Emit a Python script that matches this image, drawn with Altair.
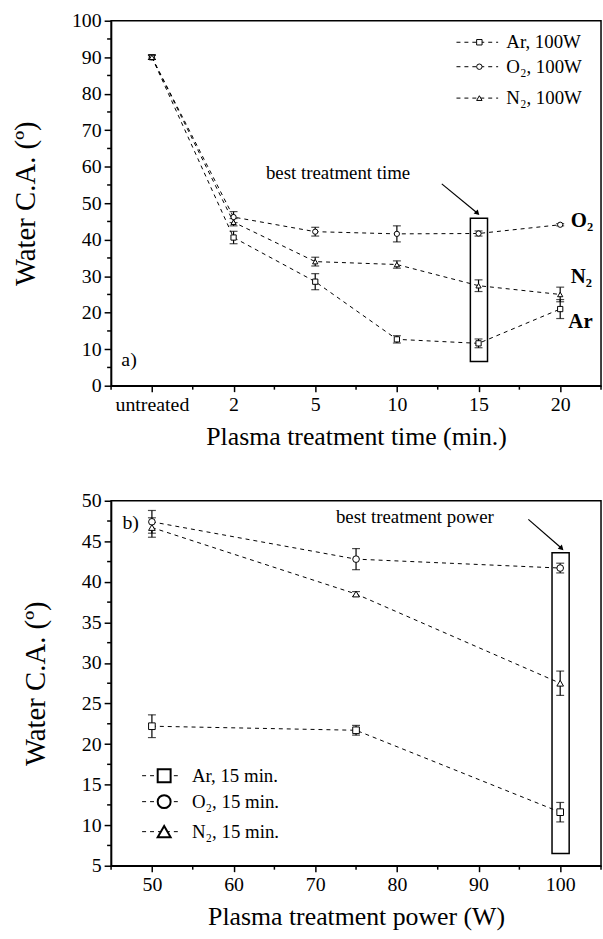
import json
import altair as alt
import pandas as pd

FONT = "Liberation Serif"

# ---------------- data ----------------
series = ["Ar", "O2", "N2"]
shapes = ["square", "circle", "triangle-up"]

time_labels = ["untreated", "2", "5", "10", "15", "20"]
time_idx = [0, 1, 2, 3, 4, 5]
ar_time = [90.0, 40.6, 28.5, 12.7, 11.6, 21.0]
ar_time_err = [0.6, 1.7, 2.2, 1.0, 1.2, 2.6]
o2_time = [90.0, 46.2, 42.2, 41.6, 41.7, 44.1]
o2_time_err = [0.6, 1.5, 1.2, 2.2, 0.7, 0.3]
n2_time = [90.0, 44.8, 34.0, 33.2, 27.4, 25.0]
n2_time_err = [0.6, 1.0, 1.2, 1.0, 1.6, 2.0]

power = [50, 75, 100]
ar_pow = [22.2, 21.7, 11.6]
ar_pow_err = [1.4, 0.6, 1.2]
o2_pow = [47.4, 42.8, 41.7]
o2_pow_err = [1.4, 1.3, 0.6]
n2_pow = [46.7, 38.5, 27.5]
n2_pow_err = [1.2, 0.3, 1.5]

legend_a_text = ["Ar, 100W", "O\u2082, 100W", "N\u2082, 100W"]
legend_b_text = ["Ar, 15 min.", "O\u2082, 15 min.", "N\u2082, 15 min."]
side_text = ["Ar", "O\u2082", "N\u2082"]


def series_df(xs, vals, errs):
    rows = []
    for s, v, e in zip(series, vals, errs):
        for x, yv, ev in zip(xs, v, e):
            rows.append({"series": s, "x": x, "y": yv, "lo": yv - ev, "hi": yv + ev})
    return pd.DataFrame(rows)


df_a = series_df(time_idx, [ar_time, o2_time, n2_time], [ar_time_err, o2_time_err, n2_time_err])
df_b = series_df(power, [ar_pow, o2_pow, n2_pow], [ar_pow_err, o2_pow_err, n2_pow_err])

# annotation placement (data coordinates)
box_a = pd.DataFrame({"x": [3.9], "x2": [4.11], "y": [6.6], "y2": [45.9]})
arrow_a = pd.DataFrame({"x": [3.55], "x2": [3.98], "y": [55.3], "y2": [47.4]})
note_a = pd.DataFrame({"x": [2.28], "y": [58.4], "t": ["best treatment time"]})
tag_a = pd.DataFrame({"x": [-0.28], "y": [7.0], "t": ["a)"]})
side_a = pd.DataFrame({"x": [5.1, 5.13, 5.13], "y": [17.4, 45.0, 29.7], "t": side_text})
leg_a = pd.DataFrame({"series": series, "y": [94.1, 87.4, 78.8], "t": legend_a_text,
                      "x": [4.01] * 3, "xa": [3.73] * 3, "xb": [4.24] * 3, "xt": [4.34] * 3})

box_b = pd.DataFrame({"x": [99.0], "x2": [101.1], "y": [6.5], "y2": [43.6]})
arrow_b = pd.DataFrame({"x": [96.1], "x2": [100.1], "y": [47.7], "y2": [44.2]})
note_b = pd.DataFrame({"x": [82.2], "y": [48.0], "t": ["best treatment power"]})
tag_b = pd.DataFrame({"x": [47.4], "y": [47.3], "t": ["b)"]})
leg_b = pd.DataFrame({"series": series, "y": [16.1, 12.9, 9.2], "t": legend_b_text,
                      "x": [51.5] * 3, "xa": [48.8] * 3, "xb": [53.5] * 3, "xt": [54.9] * 3})

minor_y_a = pd.DataFrame({"y": [5 + 10 * i for i in range(10)]})
minor_x_a = pd.DataFrame({"x": [-0.5 + i for i in range(7)]})
minor_y_b = pd.DataFrame({"y": [7.5 + 5 * i for i in range(9)]})
minor_x_b = pd.DataFrame({"x": [45 + 10 * i for i in range(7)]})

W, H = 494, 368

shape_enc = alt.Shape("series:N", scale=alt.Scale(domain=series, range=shapes), legend=None)

label_expr = json.dumps(time_labels) + "[datum.value]"


def axis_common(**kw):
    base = dict(grid=False, domainColor="black", domainWidth=1.5, tickColor="black",
                tickWidth=1.5, labelFont=FONT, labelFontSize=20, labelColor="black",
                titleFont=FONT, titleFontWeight="normal", titleColor="black",
                labelFlush=False, labelOverlap=False)
    base.update(kw)
    return alt.Axis(**base)


def build_panel(df, xs, xa, ys, ya, box, arrow, note, tag, leg, leg_size, leg_sw, pt_size,
                minor_x, minor_y, side=None):
    def X(f="x"):
        return alt.X(f"{f}:Q", scale=xs, axis=xa)

    def Y(f="y"):
        return alt.Y(f"{f}:Q", scale=ys, axis=ya)

    line = alt.Chart(df).mark_line(color="black", strokeWidth=1, strokeDash=[4, 4]).encode(
        x=X(), y=Y(), detail="series:N")
    err = alt.Chart(df).mark_rule(color="black", strokeWidth=1.2).encode(
        x=X(), y=Y("lo"), y2="hi:Q")
    cap_lo = alt.Chart(df).mark_tick(orient="horizontal", size=8, thickness=1.2, color="black").encode(
        x=X(), y=Y("lo"))
    cap_hi = alt.Chart(df).mark_tick(orient="horizontal", size=8, thickness=1.2, color="black").encode(
        x=X(), y=Y("hi"))
    pts = alt.Chart(df).mark_point(filled=True, fill="white", stroke="black", strokeWidth=1,
                                   size=pt_size, opacity=1).encode(x=X(), y=Y(), shape=shape_enc)
    rect = alt.Chart(box).mark_rect(stroke="black", strokeWidth=1.5, fill="transparent").encode(
        x=X(), x2="x2:Q", y=Y(), y2="y2:Q")
    arr = alt.Chart(arrow).mark_rule(color="black", strokeWidth=1.2).encode(
        x=X(), x2="x2:Q", y=Y(), y2="y2:Q")
    head = alt.Chart(arrow).mark_point(shape="triangle", angle=135, size=35, filled=True,
                                       color="black", opacity=1).encode(x=X("x2"), y=Y("y2"))
    note_t = alt.Chart(note).mark_text(font=FONT, fontSize=19, color="black", align="center",
                                       baseline="middle").encode(x=X(), y=Y(), text="t:N")
    tag_t = alt.Chart(tag).mark_text(font=FONT, fontSize=20, color="black", align="center",
                                     baseline="middle").encode(x=X(), y=Y(), text="t:N")
    leg_line = alt.Chart(leg).mark_rule(color="black", strokeWidth=1, strokeDash=[4, 4]).encode(
        x=X("xa"), x2="xb:Q", y=Y())
    leg_pt = alt.Chart(leg).mark_point(filled=True, fill="white", stroke="black", strokeWidth=leg_sw,
                                       size=leg_size, opacity=1).encode(x=X(), y=Y(), shape=shape_enc)
    leg_t = alt.Chart(leg).mark_text(font=FONT, fontSize=19, color="black", align="left",
                                     baseline="middle").encode(x=X("xt"), y=Y(), text="t:N")
    my = alt.Chart(minor_y).mark_rule(color="black", strokeWidth=1.5).encode(
        y=Y(), x=alt.value(-4), x2=alt.value(0))
    mx = alt.Chart(minor_x).mark_rule(color="black", strokeWidth=1.5).encode(
        x=X(), y=alt.value(H), y2=alt.value(H + 4))
    layers = [line, err, cap_lo, cap_hi, pts, rect, arr, head, note_t, tag_t,
              leg_line, leg_pt, leg_t, my, mx]
    if side is not None:
        layers.append(alt.Chart(side).mark_text(font=FONT, fontSize=21, fontWeight="bold",
                                                color="black", align="left",
                                                baseline="middle").encode(x=X(), y=Y(), text="t:N"))
    return alt.layer(*layers).properties(width=W, height=H)


xs_a = alt.Scale(domain=[-0.5, 5.5], nice=False, zero=False)
xa_a = axis_common(values=time_idx, labelExpr=label_expr, tickSize=6, labelPadding=3,
                   title="Plasma treatment time (min.)", titleFontSize=26, titlePadding=9)
ys_a = alt.Scale(domain=[0, 100], nice=False, zero=False)
ya_a = axis_common(values=list(range(0, 101, 10)), tickSize=7, labelPadding=3,
                   title="Water C.A. (\u00ba)", titleFontSize=29, titlePadding=31)

xs_b = alt.Scale(domain=[45, 105], nice=False, zero=False)
xa_b = axis_common(values=list(range(50, 101, 10)), tickSize=6, labelPadding=3,
                   title="Plasma treatment power (W)", titleFontSize=26, titlePadding=9)
ys_b = alt.Scale(domain=[5, 50], nice=False, zero=False)
ya_b = axis_common(values=list(range(5, 51, 5)), tickSize=7, labelPadding=3,
                   title="Water C.A. (\u00ba)", titleFontSize=29, titlePadding=31)

panel_a = build_panel(df_a, xs_a, xa_a, ys_a, ya_a, box_a, arrow_a, note_a, tag_a, leg_a, 30, 1, 28,
                      minor_x_a, minor_y_a, side=side_a)
panel_b = build_panel(df_b, xs_b, xa_b, ys_b, ya_b, box_b, arrow_b, note_b, tag_b, leg_b, 170, 2, 45,
                      minor_x_b, minor_y_b)

chart = alt.vconcat(panel_a, panel_b, spacing=40).properties(
    padding={"left": 11, "top": 6, "right": 0, "bottom": 5},
    background="white",
).configure_view(stroke="black", strokeWidth=1.5)

chart.save("out.html", embed_options={"renderer": "svg", "actions": False})
